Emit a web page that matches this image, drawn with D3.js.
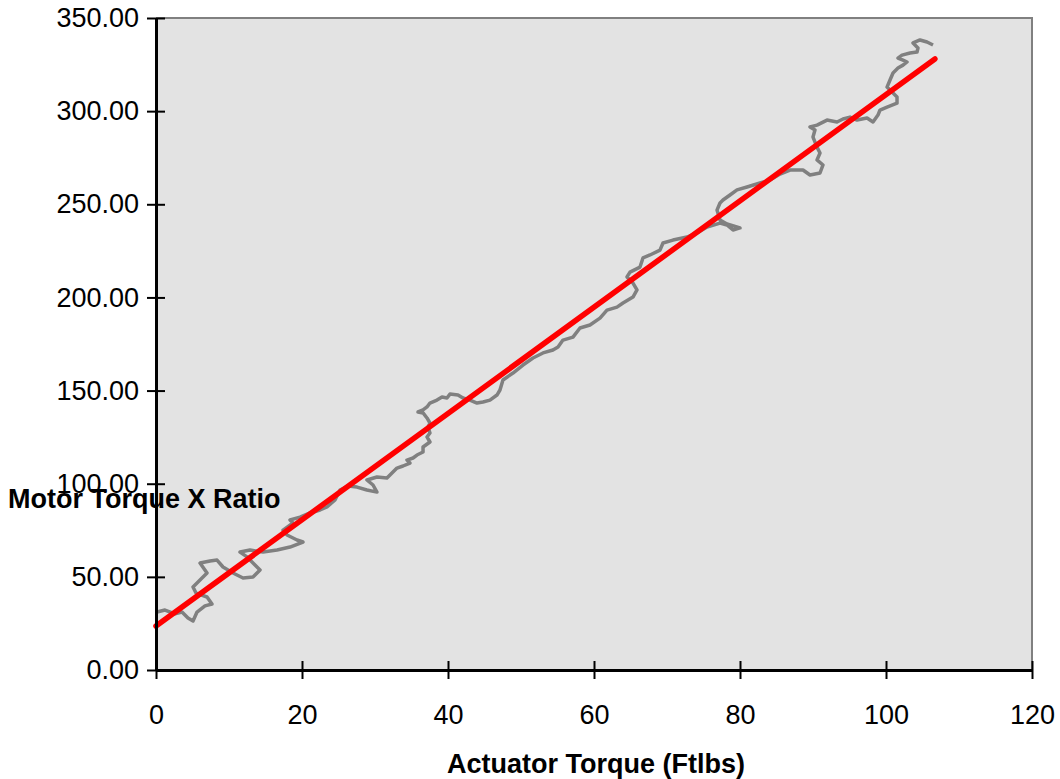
<!DOCTYPE html>
<html>
<head>
<meta charset="utf-8">
<script src="https://cdn.jsdelivr.net/npm/d3@7"></script>
<style>
  html, body { margin: 0; padding: 0; background: #ffffff; }
  svg { display: block; font-family: Arial, "Liberation Sans", sans-serif; }
</style>
</head>
<body>
<svg id="chart" width="1060" height="779"></svg>
<script>
// Measured trace: actuator torque (ft-lbs) against motor torque x ratio
const actuatorTorque = [
  0.14, 1.23, 2.60, 3.56, 4.38, 5.07, 5.62, 6.71, 7.67, 6.99,
  5.48, 5.07, 6.03, 6.99, 6.03, 7.40, 8.36, 9.18, 10.55, 11.92,
  13.29, 14.25, 13.29, 12.47, 11.51, 12.88, 14.66, 16.58, 18.36, 20.14,
  19.32, 17.95, 17.40, 18.77, 18.36, 19.73, 21.10, 22.47, 23.42, 24.52,
  25.21, 26.30, 27.53, 28.90, 30.27, 29.73, 28.90, 30.27, 31.64, 33.01,
  33.84, 34.79, 34.38, 35.21, 35.75, 36.58, 36.58, 37.53, 37.12, 37.53,
  37.26, 37.53, 37.12, 36.58, 35.89, 36.58, 37.12, 37.53, 38.49, 39.18,
  39.86, 40.27, 41.37, 42.05, 43.01, 43.97, 44.79, 45.75, 46.71, 47.12,
  47.53, 48.90, 50.27, 51.64, 53.01, 54.38, 55.07, 55.75, 57.12, 58.08,
  59.45, 60.82, 61.78, 63.15, 63.97, 65.34, 65.89, 65.34, 64.52, 64.93,
  66.30, 66.71, 67.67, 69.04, 69.45, 70.82, 72.74, 74.11, 75.48, 77.26,
  78.22, 79.04, 80.00, 78.22, 77.26, 76.85, 77.26, 77.67, 78.63, 79.59,
  80.96, 82.74, 84.11, 85.48, 86.85, 88.63, 89.59, 90.96, 91.37, 90.55,
  90.96, 90.55, 90.00, 90.27, 89.59, 90.55, 91.92, 93.29, 94.11, 95.07,
  96.03, 97.40, 98.22, 98.90, 99.18, 100.14, 101.51, 101.51, 100.96, 100.14,
  100.55, 100.96, 101.64, 102.33, 102.88, 102.33, 101.64, 102.19, 103.29, 104.25,
  104.38, 103.70, 104.66, 105.62, 106.44
];
const motorTorqueRatio = [
  31.1, 32.2, 30.1, 31.1, 27.9, 26.3, 31.1, 34.4, 35.4, 39.2,
  41.3, 44.6, 48.3, 52.1, 57.4, 58.5, 59.0, 55.3, 52.1, 49.4,
  49.9, 53.7, 57.4, 60.7, 63.3, 64.4, 63.3, 64.4, 66.0, 68.7,
  69.8, 72.5, 75.1, 78.9, 80.5, 82.1, 84.3, 85.9, 87.5, 91.3,
  96.6, 98.8, 98.2, 96.6, 95.5, 99.3, 102.0, 103.6, 103.1, 108.4,
  109.5, 111.1, 112.7, 113.8, 115.4, 117.0, 119.7, 122.4, 125.1, 127.2,
  130.4, 132.6, 135.3, 138.0, 138.5, 139.6, 141.2, 143.3, 144.9, 146.5,
  146.0, 148.1, 147.6, 146.0, 144.9, 143.3, 143.9, 144.9, 147.6, 150.3,
  155.7, 159.4, 163.7, 167.5, 170.2, 171.8, 173.4, 177.1, 178.7, 183.6,
  185.2, 188.9, 193.2, 194.8, 197.0, 200.2, 204.0, 207.7, 211.0, 213.6,
  216.3, 221.2, 222.8, 225.4, 229.2, 230.8, 232.4, 234.6, 237.8, 239.9,
  238.9, 236.2, 237.3, 239.4, 241.5, 246.9, 250.7, 252.3, 255.0, 257.7,
  259.3, 261.4, 263.0, 266.2, 268.4, 268.4, 265.7, 266.8, 271.1, 273.8,
  277.5, 280.7, 286.1, 289.9, 291.5, 292.5, 295.2, 294.2, 295.8, 296.8,
  295.2, 296.3, 294.2, 297.9, 300.6, 302.2, 304.3, 307.6, 309.7, 312.9,
  316.7, 320.5, 323.1, 324.7, 326.4, 327.4, 328.5, 330.1, 331.2, 331.7,
  333.9, 336.6, 338.2, 337.1, 335.5
];

// Linear trend line: intercept, slope and x-extent
const trendIntercept = 23.6;
const trendSlope = 2.853;
const trendRange = [0, 106.7];

const xTicks = [0, 20, 40, 60, 80, 100, 120];
const yTicks = [0, 50, 100, 150, 200, 250, 300, 350];

const xTitle = "Actuator Torque (Ftlbs)";
const yTitle = "Motor Torque X Ratio";

const plot = { left: 156, right: 1032, top: 18, bottom: 670 };
const fontSize = 27;

const svg = d3.select("#chart");

const x = d3.scaleLinear().domain([0, 120]).range([plot.left, plot.right]);
const y = d3.scaleLinear().domain([0, 350]).range([plot.bottom, plot.top]);

// Plot area background with grey top/right frame
svg.append("rect")
  .attr("x", plot.left).attr("y", plot.top)
  .attr("width", plot.right - plot.left).attr("height", plot.bottom - plot.top)
  .attr("fill", "#e3e3e3");
svg.append("path")
  .attr("d", `M${plot.left},${plot.top}H${plot.right}V${plot.bottom}`)
  .attr("fill", "none").attr("stroke", "#808080").attr("stroke-width", 2);

// Measured trace
const trace = actuatorTorque.map((v, i) => [v, motorTorqueRatio[i]]);
svg.append("path")
  .datum(trace)
  .attr("fill", "none")
  .attr("stroke", "#808080")
  .attr("stroke-width", 3.5)
  .attr("stroke-linejoin", "round")
  .attr("d", d3.line().x(d => x(d[0])).y(d => y(d[1])));

// Trend line
const trend = trendRange.map(v => [v, trendIntercept + trendSlope * v]);
svg.append("path")
  .datum(trend)
  .attr("fill", "none")
  .attr("stroke", "#ff0000")
  .attr("stroke-width", 5.5)
  .attr("stroke-linecap", "round")
  .attr("d", d3.line().x(d => x(d[0])).y(d => y(d[1])));

// Axes: ticks cross the axis line
const xAxis = svg.append("g")
  .attr("transform", `translate(0,${plot.bottom})`)
  .call(d3.axisBottom(x).tickValues(xTicks).tickFormat(d3.format("d")).tickSizeOuter(0).tickSizeInner(9).tickPadding(26));
xAxis.select(".domain").attr("stroke", "#000").attr("stroke-width", 3);
xAxis.selectAll(".tick line").attr("y1", -9).attr("y2", 9).attr("stroke", "#000").attr("stroke-width", 2);
xAxis.selectAll(".tick text").attr("font-size", fontSize).attr("fill", "#000")
  .attr("font-family", "Arial, 'Liberation Sans', sans-serif");

const yAxis = svg.append("g")
  .attr("transform", `translate(${plot.left},0)`)
  .call(d3.axisLeft(y).tickValues(yTicks).tickFormat(d3.format(".2f")).tickSizeOuter(0).tickSizeInner(9).tickPadding(8));
yAxis.select(".domain").attr("stroke", "#000").attr("stroke-width", 3);
yAxis.selectAll(".tick line").attr("x1", -9).attr("x2", 9).attr("stroke", "#000").attr("stroke-width", 2);
yAxis.selectAll(".tick text").attr("font-size", fontSize).attr("fill", "#000")
  .attr("font-family", "Arial, 'Liberation Sans', sans-serif");

// Axis titles
svg.append("text")
  .attr("x", 596).attr("y", 773)
  .attr("text-anchor", "middle")
  .attr("font-size", fontSize).attr("font-weight", "bold")
  .text(xTitle);
svg.append("text")
  .attr("x", 8).attr("y", 508)
  .attr("text-anchor", "start")
  .attr("font-size", fontSize).attr("font-weight", "bold")
  .text(yTitle);
</script>
</body>
</html>
